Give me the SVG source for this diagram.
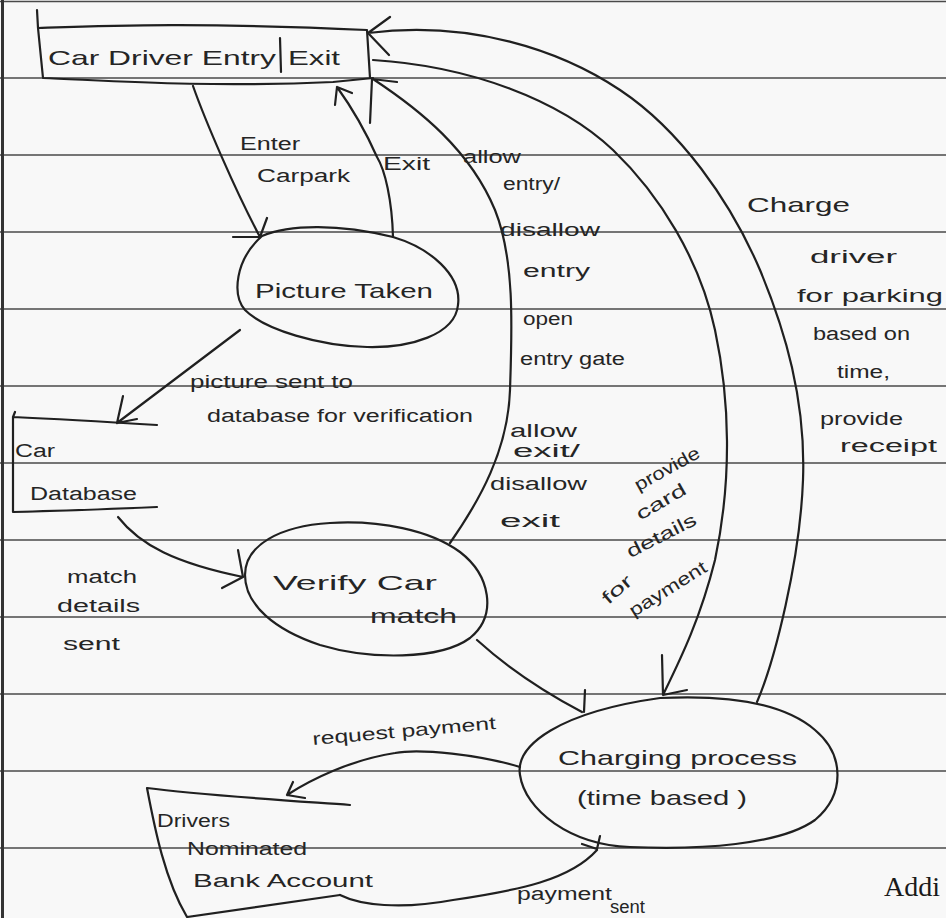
<svg xmlns="http://www.w3.org/2000/svg" width="946" height="918" viewBox="0 0 946 918">
<style>
.ink{fill:none;stroke:#202020;stroke-width:2.2;stroke-linecap:round;stroke-linejoin:round}
.rule{stroke:#4a4a4a;stroke-width:1.6}
.t{font-family:"Liberation Sans","DejaVu Sans",sans-serif;font-size:18px;fill:#252525}
.big{font-size:21px}
.print{font-family:"Liberation Serif","DejaVu Serif",serif;font-size:28px;fill:#1a1a1a}
</style>
<rect width="946" height="918" fill="#f8f8f8"/>
<g id="paper">
<line class="rule" x1="0" y1="1.5" x2="946" y2="1.5" stroke-width="2.5"/>
<line class="rule" x1="0" y1="78" x2="946" y2="78"/>
<line class="rule" x1="0" y1="155" x2="946" y2="155"/>
<line class="rule" x1="0" y1="232" x2="946" y2="232"/>
<line class="rule" x1="0" y1="309" x2="946" y2="309"/>
<line class="rule" x1="0" y1="386" x2="946" y2="386"/>
<line class="rule" x1="0" y1="463" x2="946" y2="463"/>
<line class="rule" x1="0" y1="540" x2="946" y2="540"/>
<line class="rule" x1="0" y1="617" x2="946" y2="617"/>
<line class="rule" x1="0" y1="694" x2="946" y2="694"/>
<line class="rule" x1="0" y1="771" x2="946" y2="771"/>
<line class="rule" x1="0" y1="848" x2="946" y2="848"/>
<line x1="2.5" y1="0" x2="2.5" y2="918" stroke="#333" stroke-width="3"/>
</g>
<g id="car-driver">
<path class="ink" d="M37,10 L38,28 C100,26 200,22 367,30 L370,78 M38,28 L43,78 C100,80 200,88 333,82 L373,78 M280,38 L281,72"/>
<text class="t big" x="48" y="65" textLength="228" lengthAdjust="spacingAndGlyphs">Car Driver Entry</text>
<text class="t big" x="288" y="65" textLength="52" lengthAdjust="spacingAndGlyphs">Exit</text>
</g>
<g id="picture-taken">
<path class="ink" d="M262,236 C290,224 340,224 393,237 C430,248 462,275 458,305 C455,335 410,348 367,347 C320,346 265,330 245,310 C232,295 235,260 262,236 Z"/>
<text class="t big" x="255" y="298" textLength="178" lengthAdjust="spacingAndGlyphs">Picture Taken</text>
</g>
<g id="car-database">
<path class="ink" d="M15,412 L13,417 C60,419 110,422 157,425 M13,417 L13,512 C60,511 110,509 157,507"/>
<text class="t" x="15" y="457" textLength="40" lengthAdjust="spacingAndGlyphs">Car</text>
<text class="t" x="30" y="500" textLength="107" lengthAdjust="spacingAndGlyphs">Database</text>
</g>
<g id="verify-car-match">
<path class="ink" d="M330,523 C380,520 430,530 460,552 C490,575 498,615 470,638 C440,660 370,660 320,645 C275,630 245,605 245,575 C245,545 280,526 330,523 Z"/>
<text class="t big" x="273" y="590" textLength="164" lengthAdjust="spacingAndGlyphs">Verify Car</text>
<text class="t big" x="370" y="623" textLength="87" lengthAdjust="spacingAndGlyphs">match</text>
</g>
<g id="charging-process">
<path class="ink" d="M660,698 C720,695 780,700 815,730 C845,755 845,795 815,820 C780,845 700,850 630,847 C570,845 525,810 520,775 C515,745 560,712 660,698 Z"/>
<text class="t big" x="558" y="765" textLength="239" lengthAdjust="spacingAndGlyphs">Charging process</text>
<text class="t big" x="577" y="805" textLength="170" lengthAdjust="spacingAndGlyphs">(time based )</text>
</g>
<g id="driver-bank-account">
<path class="ink" d="M147,788 C200,795 280,800 350,805 M147,788 C155,830 165,880 187,917 L340,895"/>
<text class="t" x="157" y="827" textLength="73" lengthAdjust="spacingAndGlyphs">Drivers</text>
<text class="t" x="187" y="855" textLength="120" lengthAdjust="spacingAndGlyphs">Nominated</text>
<text class="t" x="193" y="887" textLength="180" lengthAdjust="spacingAndGlyphs">Bank Account</text>
</g>
<g id="connectors">
<path class="ink" d="M193,86 C205,120 235,190 260,237 M267,218 L260,237 L233,237"/>
<path class="ink" d="M393,237 C392,200 385,170 377,157 C365,130 350,105 337,87 M335,105 L337,87 L352,93"/>
<path class="ink" d="M450,543 C480,500 508,450 510,390 C512,330 515,260 495,210 C470,150 420,110 373,79 M370,123 L372,79 L397,82"/>
<path class="ink" d="M373,60 C470,66 560,100 613,150 C660,195 700,260 715,330 C730,400 732,480 715,560 C700,620 680,660 663,695 M662,655 L663,695 L687,690"/>
<path class="ink" d="M757,702 C775,660 800,560 803,480 C806,400 785,330 760,270 C730,200 680,130 620,90 C560,50 470,20 368,33 M390,17 L368,33 L389,55"/>
<path class="ink" d="M240,330 L117,423 M123,396 L117,423 L137,419"/>
<path class="ink" d="M118,517 C140,545 175,563 243,577 M238,550 L243,577 L222,588"/>
<path class="ink" d="M477,640 C510,670 550,695 582,712 M585,690 L584,712"/>
<path class="ink" d="M520,767 C480,755 420,748 395,753 C350,760 310,780 287,795 M293,782 L287,795 L305,798"/>
<path class="ink" d="M340,895 C360,905 400,910 453,900 C520,890 570,880 597,850 M582,844 L597,849 L600,836"/>
<text class="t" x="240" y="150" textLength="60" lengthAdjust="spacingAndGlyphs">Enter</text>
<text class="t" x="257" y="182" textLength="93" lengthAdjust="spacingAndGlyphs">Carpark</text>
<text class="t" x="383" y="170" textLength="47" lengthAdjust="spacingAndGlyphs">Exit</text>
<text class="t" x="463" y="163" textLength="58" lengthAdjust="spacingAndGlyphs">allow</text>
<text class="t" x="503" y="190" textLength="57" lengthAdjust="spacingAndGlyphs">entry/</text>
<text class="t" x="500" y="236" textLength="100" lengthAdjust="spacingAndGlyphs">disallow</text>
<text class="t" x="523" y="277" textLength="67" lengthAdjust="spacingAndGlyphs">entry</text>
<text class="t" x="523" y="325" textLength="50" lengthAdjust="spacingAndGlyphs">open</text>
<text class="t" x="520" y="365" textLength="105" lengthAdjust="spacingAndGlyphs">entry gate</text>
<text class="t" x="510" y="437" textLength="67" lengthAdjust="spacingAndGlyphs">allow</text>
<text class="t" x="513" y="457" textLength="67" lengthAdjust="spacingAndGlyphs">exit/</text>
<text class="t" x="490" y="490" textLength="97" lengthAdjust="spacingAndGlyphs">disallow</text>
<text class="t" x="500" y="527" textLength="60" lengthAdjust="spacingAndGlyphs">exit</text>
<text class="t big" x="747" y="212" textLength="103" lengthAdjust="spacingAndGlyphs">Charge</text>
<text class="t" x="810" y="263" textLength="87" lengthAdjust="spacingAndGlyphs">driver</text>
<text class="t" x="797" y="302" textLength="146" lengthAdjust="spacingAndGlyphs">for parking</text>
<text class="t" x="813" y="340" textLength="97" lengthAdjust="spacingAndGlyphs">based on</text>
<text class="t" x="837" y="378" textLength="53" lengthAdjust="spacingAndGlyphs">time,</text>
<text class="t" x="820" y="425" textLength="83" lengthAdjust="spacingAndGlyphs">provide</text>
<text class="t" x="840" y="452" textLength="97" lengthAdjust="spacingAndGlyphs">receipt</text>
<text class="t" x="190" y="388" textLength="163" lengthAdjust="spacingAndGlyphs">picture sent to</text>
<text class="t" x="207" y="422" textLength="266" lengthAdjust="spacingAndGlyphs">database for verification</text>
<text class="t" x="67" y="583" textLength="70" lengthAdjust="spacingAndGlyphs">match</text>
<text class="t" x="57" y="612" textLength="83" lengthAdjust="spacingAndGlyphs">details</text>
<text class="t" x="63" y="650" textLength="57" lengthAdjust="spacingAndGlyphs">sent</text>
<text class="t" text-anchor="middle" transform="translate(670,474) rotate(-29)" textLength="72" lengthAdjust="spacingAndGlyphs">provide</text>
<text class="t" text-anchor="middle" transform="translate(664,507) rotate(-30)" textLength="55" lengthAdjust="spacingAndGlyphs">card</text>
<text class="t" text-anchor="middle" transform="translate(664,541) rotate(-27)" textLength="76" lengthAdjust="spacingAndGlyphs">details</text>
<text class="t" text-anchor="middle" transform="translate(621,594) rotate(-41)" textLength="34" lengthAdjust="spacingAndGlyphs">for</text>
<text class="t" text-anchor="middle" transform="translate(671,594) rotate(-32)" textLength="88" lengthAdjust="spacingAndGlyphs">payment</text>
<text class="t" transform="translate(313,745) rotate(-5)" textLength="184" lengthAdjust="spacingAndGlyphs">request payment</text>
<text class="t" x="517" y="900" textLength="95" lengthAdjust="spacingAndGlyphs">payment</text>
<text class="t" x="610" y="913" textLength="35" lengthAdjust="spacingAndGlyphs">sent</text>
</g>
<text class="print" x="884" y="896">Addi</text>
</svg>
